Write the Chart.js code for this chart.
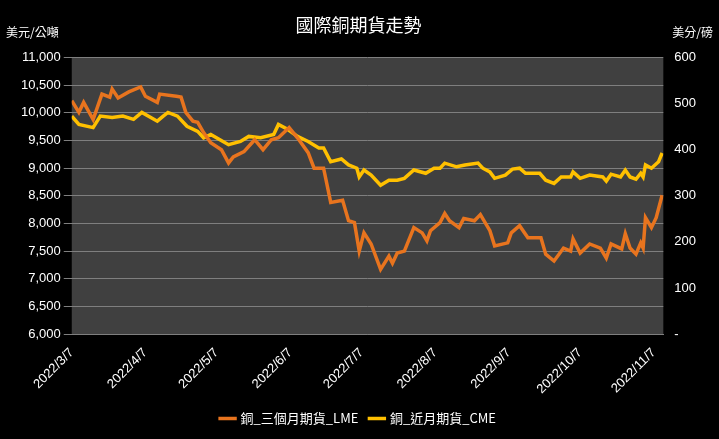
<!DOCTYPE html>
<html><head><meta charset="utf-8">
<script src="https://cdn.jsdelivr.net/npm/chart.js@4"></script>
<style>html,body{margin:0;padding:0;background:#000;}#w{width:719px;height:439px;}</style>
</head><body><div id="w"><canvas id="c"></canvas></div>
<script>
const monthTickDays = [0,31,61,92,122,153,184,214,245];
const monthTickLabels = ["2022/3/7","2022/4/7","2022/5/7","2022/6/7","2022/7/7","2022/8/7","2022/9/7","2022/10/7","2022/11/7"];
const lmeDays = [0,3,5,9,12.7,16,17,19.5,24,29,31,36,37,44,46,48,51,53,55.5,58.5,63,66,68,72.5,77,80.5,84,87,91.5,95,99.5,102,106,109,114,116.5,119,121,123,126,130,133.5,135,137,140,144,147.5,149.5,151,155,157,159,163,165,169.5,172,176,178,183.5,185,188.5,192,197.5,199.5,203,207,210,211,214,218,222.5,225,227,231.5,233,235,237.5,239.5,240.5,241.5,244,246,248.5];
const lmeValues = [10220,10010,10190,9880,10340,10285,10430,10270,10380,10470,10300,10190,10340,10300,10285,10010,9850,9830,9645,9460,9335,9095,9205,9300,9515,9335,9515,9550,9735,9550,9280,9000,9000,8380,8420,8050,8015,7500,7830,7630,7170,7410,7280,7465,7500,7925,7830,7685,7870,8015,8180,8050,7925,8090,8050,8160,7870,7595,7650,7830,7960,7740,7740,7445,7320,7555,7500,7720,7465,7630,7555,7375,7630,7540,7815,7555,7445,7650,7555,8105,7925,8105,8510];
const cmeDays = [0,3,9,12,17,21.5,26,29.5,36,38.5,40.5,44.5,48.5,53,55.5,58.5,66,71,74.5,79.5,85,87,91,95,99.5,104,106,109,113.5,116.5,120,121,123,126,130,133.5,137,140,144,149,152.5,155,157,162,165.5,171,173,176,178,182.5,185.5,188.5,191,197,199.5,203,206,210,211,214,218,223.5,225,227,231,233,235,237.5,239.5,240.5,241.5,244,247,248.5];
const cmeValues = [473,455,448,473,470,473,466,481,462,473,481,473,451,440,426,433,411,418,429,426,433,455,444,429,418,404,404,374,380,367,360,341,356,345,323,334,334,338,356,349,360,360,371,363,367,371,360,352,338,345,358,360,349,349,334,327,341,341,352,338,345,341,332,347,341,356,341,336,349,341,367,360,374,393];
const seriesNames = ["銅_三個月期貨_LME","銅_近月期貨_CME"];

const bgPlugin = {id:'bg', beforeDraw(ch){const {ctx,chartArea:a}=ch;ctx.save();ctx.fillStyle='#000';ctx.fillRect(0,0,ch.width,ch.height);ctx.fillStyle='#404040';ctx.fillRect(a.left,a.top,a.right-a.left,a.bottom-a.top);ctx.restore();},
  afterDraw(ch){const {ctx}=ch;ctx.save();ctx.fillStyle='#fff';ctx.font='12px "Noto Sans CJK TC"';ctx.textBaseline='middle';ctx.textAlign='left';ctx.fillText('美元/公噸',6,32);ctx.textAlign='right';ctx.fillText('美分/磅',713,32);ctx.restore();}};
const font = {family:'"Liberation Sans","Noto Sans CJK TC"', size:13};
new Chart(document.getElementById('c'),{
  type:'line',
  data:{datasets:[
    {label:seriesNames[0],data:lmeDays.map((d,i)=>({x:d,y:lmeValues[i]})),borderColor:'#E8741E',backgroundColor:'#E8741E',borderWidth:3.5,pointRadius:0,tension:0,yAxisID:'y'},
    {label:seriesNames[1],data:cmeDays.map((d,i)=>({x:d,y:cmeValues[i]})),borderColor:'#FFC000',backgroundColor:'#FFC000',borderWidth:3.5,pointRadius:0,tension:0,yAxisID:'y1'}
  ]},
  options:{responsive:true,maintainAspectRatio:false,animation:false,
    layout:{padding:{left:18,right:20,top:2,bottom:4}},
    plugins:{
      title:{display:true,text:'國際銅期貨走勢',color:'#fff',font:{family:'"Noto Sans CJK TC"',size:18,weight:'normal'},padding:{top:12,bottom:22}},
      legend:{position:'bottom',labels:{color:'#fff',usePointStyle:true,pointStyle:'line',font:{family:'"Noto Sans CJK TC"',size:13},boxWidth:30,padding:12}},
      tooltip:{enabled:false}
    },
    scales:{
      x:{type:'linear',min:0,max:249,
        afterBuildTicks(ax){ax.ticks=monthTickDays.map(v=>({value:v}));},
        ticks:{color:'#fff',font,maxRotation:45,minRotation:45,autoSkip:false,callback:(v)=>monthTickLabels[monthTickDays.indexOf(v)]},
        grid:{display:false},border:{color:'#7f7f7f'}},
      y:{position:'left',min:6000,max:11000,
        ticks:{stepSize:500,color:'#fff',font,callback:v=>v.toLocaleString('en-US')},
        grid:{color:'#7f7f7f'},border:{display:false}},
      y1:{position:'right',min:0,max:600,
        ticks:{stepSize:100,color:'#fff',font,callback:v=>v===0?'-':String(v)},
        grid:{display:false},border:{display:false}}
    }
  },
  plugins:[bgPlugin]
});
</script></body></html>
